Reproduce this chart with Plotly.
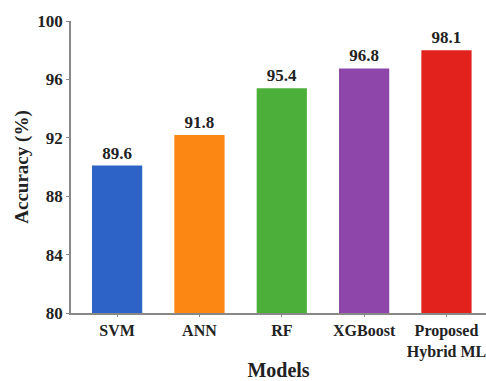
import plotly.graph_objects as go

models = ["SVM", "ANN", "RF", "XGBoost", "Proposed<br>Hybrid ML"]
# bar heights as drawn in the reference picture
bar_heights = [90.1, 92.2, 95.4, 96.75, 98.0]
# value labels printed above the bars
accuracy_labels = ["89.6", "91.8", "95.4", "96.8", "98.1"]
colors = ["#2d63c6", "#fd8713", "#4caf3a", "#8e46aa", "#e2231d"]
y_ticks = [80, 84, 88, 92, 96, 100]

font_family = "Liberation Serif"

fig = go.Figure(
    go.Bar(
        x=list(range(len(models))),
        y=bar_heights,
        marker=dict(color=colors, line=dict(width=0)),
        width=0.61,
        text=[f"<b>{v}</b>" for v in accuracy_labels],
        textposition="outside",
        textfont=dict(family=font_family, size=17, color="#222"),
        cliponaxis=False,
    )
)

fig.update_layout(
    width=486,
    height=381,
    margin=dict(l=71, r=0, t=21, b=68),
    paper_bgcolor="white",
    plot_bgcolor="white",
    showlegend=False,
    font=dict(family=font_family, color="#222"),
)

fig.update_xaxes(
    tickmode="array",
    tickvals=list(range(len(models))),
    ticktext=[f"<b>{m}</b>" for m in models],
    range=[-0.56, 4.48],
    showline=True,
    linecolor="#888",
    linewidth=1.5,
    ticks="outside",
    ticklen=2,
    tickcolor="#888",
    showgrid=False,
    automargin=False,
    ticklabeloverflow="allow",
    tickfont=dict(size=16, family=font_family, color="#222"),
    title=dict(text="<b>Models</b>", font=dict(size=20, family=font_family, color="#222"), standoff=7),
)

fig.update_yaxes(
    range=[80, 100],
    tickmode="array",
    tickvals=y_ticks,
    ticktext=[f"<b>{t}</b>" for t in y_ticks],
    showline=True,
    linecolor="#888",
    linewidth=1.5,
    ticks="outside",
    ticklen=3,
    tickcolor="#888",
    showgrid=False,
    zeroline=False,
    automargin=False,
    tickfont=dict(size=17, family=font_family, color="#222"),
    title=dict(text="<b>Accuracy (%)</b>", font=dict(size=19, family=font_family, color="#222"), standoff=4),
)

fig.write_html(
    "out.html",
    config={"displayModeBar": False},
    post_script="document.body.style.margin='0px';document.body.style.padding='0px';",
)
